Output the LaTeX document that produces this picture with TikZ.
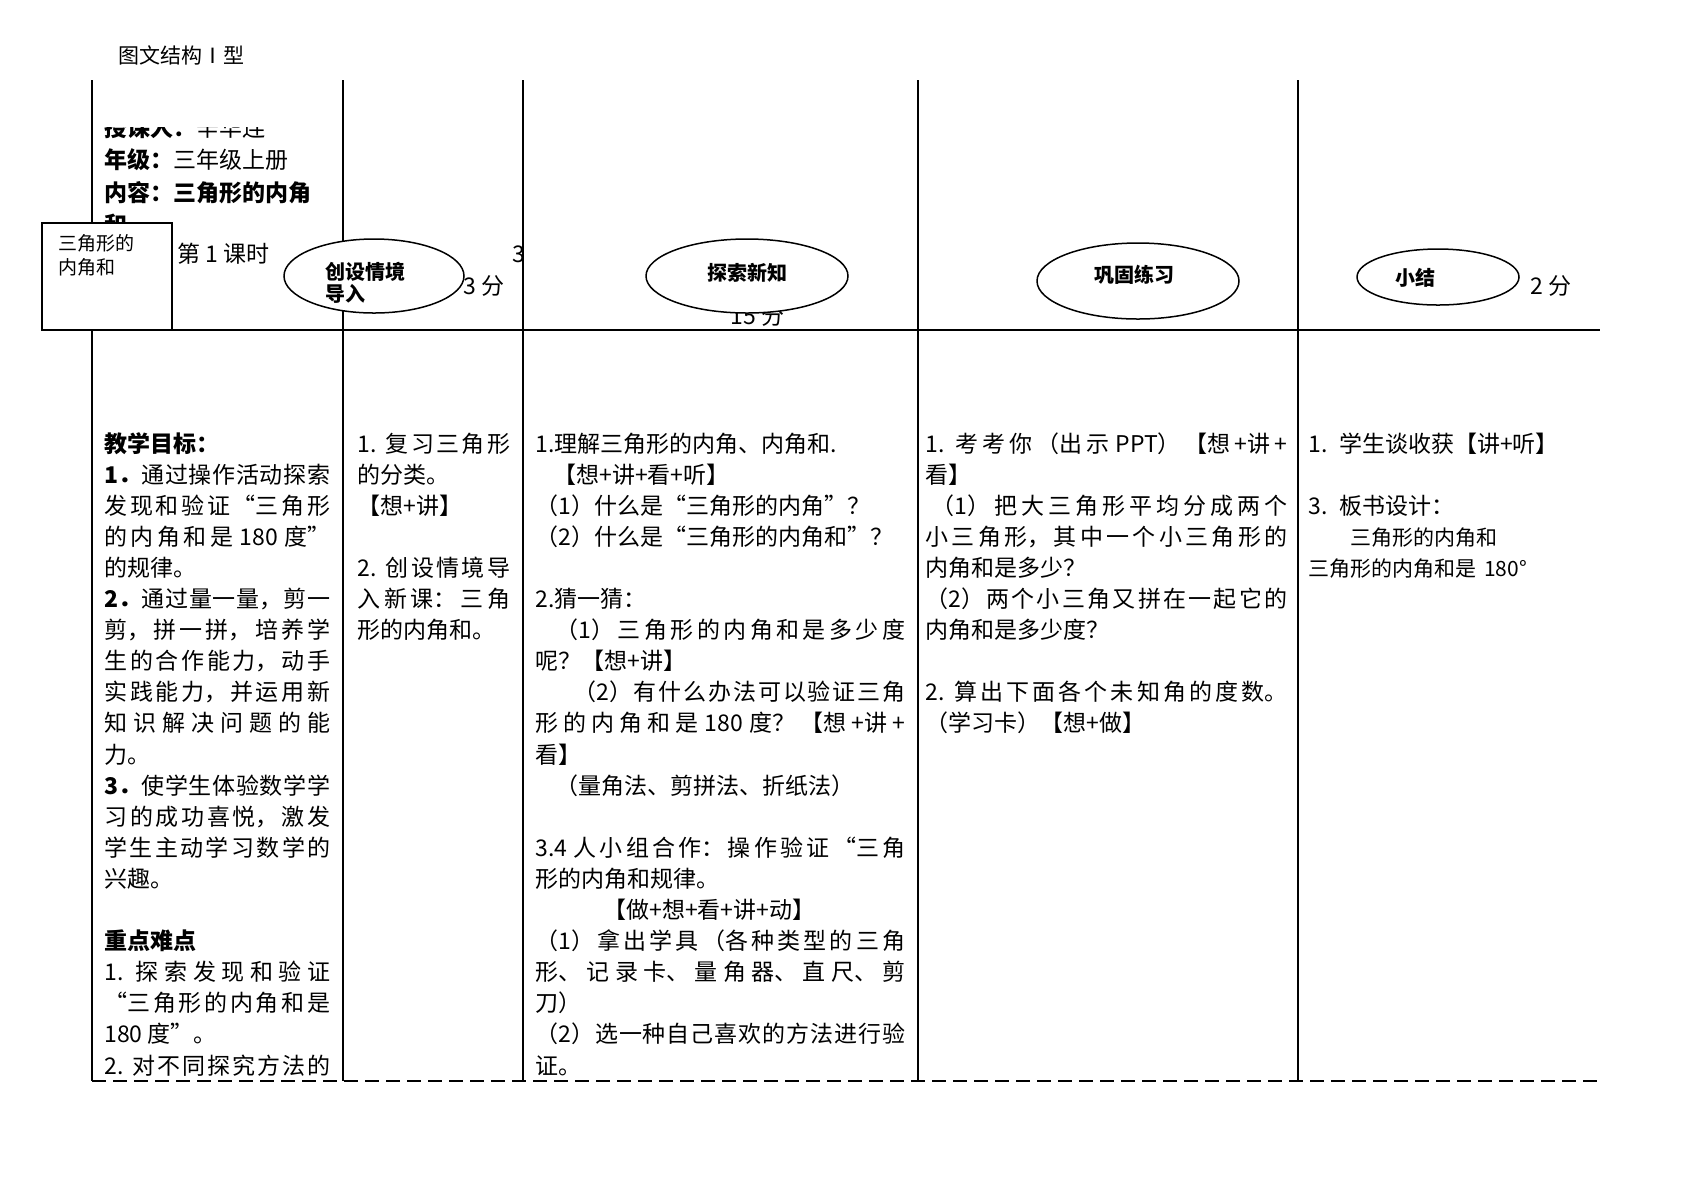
\documentclass[tikz,border=0pt]{standalone}
\usepackage{fontspec}
\setmainfont{Noto Sans CJK SC}
\usetikzlibrary{shapes.geometric}
\XeTeXlinebreaklocale "zh"
\XeTeXlinebreakskip=0pt plus 4pt
\tikzset{
	rule/.style={line width=0.75pt},
	cutline/.style={line width=0.75pt,dash pattern=on 7pt off 3.5pt},
	cell/.style={anchor=base west,inner sep=0pt,align=justify,font=\fontsize{11.5pt}{15.55pt}\selectfont},
	plain/.style={anchor=base west,inner sep=0pt,font=\fontsize{11.5pt}{15.55pt}\selectfont},
	stage/.style={draw,ellipse,fill=white,line width=0.75pt,inner sep=0pt},
	stagetext/.style={inner sep=0pt,align=left,font=\bfseries\fontsize{10pt}{11pt}\selectfont},
}
\begin{document}
\begin{tikzpicture}[x=0.5pt,y=-0.5pt]
	\useasboundingbox (0,0) rectangle (1684,1191);
	\node[plain,font=\fontsize{10.5pt}{12pt}\selectfont] (title) at (118,63) {图文结构Ⅰ型};

	\draw [rule] (92,80) -- (92,1081);
	\draw [rule] (343,80) -- (343,1081);
	\draw [rule] (523,80) -- (523,1081);
	\draw [rule] (918,80) -- (918,1081);
	\draw [rule] (1298,80) -- (1298,1081);
	\draw [rule] (92,330) -- (1600,330);
	\draw [cutline] (92,1081) -- (1600,1081);

	\begin{scope}
		\clip (92,127) rectangle (343,330);
		\node[cell,text width=113pt,align=left,font=\fontsize{11.5pt}{16.25pt}\selectfont] (info) at (104,136) {\textbf{授课人：}辛华连\\
		\textbf{年级：}三年级上册\\
		\textbf{内容：三角形的内角}\\
		\textbf{和}};
	\end{scope}
	\node[plain] (period) at (177,262) {第 1 课时};
	\node[plain] (three) at (512,262) {3};
	\node[plain] (introtime) at (463,294) {3 分};
	\node[plain] (exploretime) at (730,324) {15 分};
	\node[plain] (wrapuptime) at (1530,294) {2 分};

	\node[stage,minimum width=90pt,minimum height=37pt] (intro) at (374,276) {};
	\node[stage,minimum width=101pt,minimum height=37pt] (explore) at (747,276) {};
	\node[stage,minimum width=101pt,minimum height=38pt] (practice) at (1138,281) {};
	\node[stage,minimum width=81pt,minimum height=28pt] (wrapup) at (1438,277) {};
	\node[stagetext,anchor=base west,text width=45pt] (introtext) at (325,279) {创设情境\\导入};
	\node[stagetext] (exploretext) at (747,273) {探索新知};
	\node[stagetext] (practicetext) at (1134,275) {巩固练习};
	\node[stagetext] (wrapuptext) at (1415,278) {小结};

	\node[draw,rule,fill=white,minimum width=65pt,minimum height=53.5pt,inner sep=0pt] (topic) at (107,276.5) {};
	\node[cell,align=left,text width=55pt,font=\fontsize{9.5pt}{12pt}\selectfont] (topictext) at (58,250) {三角形的\\内角和};

	\node[cell,text width=113pt] (goal) at (104,452) {\textbf{教学目标：}\\
	\textbf{1．}通过操作活动探索\linebreak
	发现和验证“三角形\linebreak
	的内角和是 180 度”\linebreak
	的规律。\\
	\textbf{2．}通过量一量，剪一\linebreak
	剪，拼一拼，培养学\linebreak
	生的合作能力，动手\linebreak
	实践能力，并运用新\linebreak
	知识解决问题的能\linebreak
	力。\\
	\textbf{3．}使学生体验数学学\linebreak
	习的成功喜悦，激发\linebreak
	学生主动学习数学的\linebreak
	兴趣。\\[15.55pt]
	\textbf{重点难点}\\
	1. 探索发现和验证\linebreak
	“三角形的内角和是\linebreak
	180 度”。\\
	2. 对不同探究方法的\linebreak\mbox{}};

	\node[cell,text width=76.5pt] (review) at (357,452) {1. 复习三角形\linebreak
	的分类。\\
	【想+讲】\\[15.55pt]
	2. 创设情境导\linebreak
	入新课：三角\linebreak
	形的内角和。};

	\node[cell,text width=185pt] (steps) at (535,452) {1.理解三角形的内角、内角和.\\
	\hspace*{9pt}【想+讲+看+听】\\
	（1）什么是“三角形的内角”？\\
	（2）什么是“三角形的内角和”？\\[15.55pt]
	2.猜一猜：\\
	\hspace*{10pt}（1）三角形的内角和是多少度\linebreak
	呢？【想+讲】\\
	\hspace*{19pt}（2）有什么办法可以验证三角\linebreak
	形的内角和是 180 度？【想+讲+\linebreak
	看】\\
	\hspace*{10pt}（量角法、剪拼法、折纸法）\\[15.55pt]
	3.4 人小组合作：操作验证“三角\linebreak
	形的内角和规律。\\
	\hspace*{34pt}【做+想+看+讲+动】\\
	（1）拿出学具（各种类型的三角\linebreak
	形、记录卡、量角器、直尺、剪\linebreak
	刀）\\
	（2）选一种自己喜欢的方法进行验\linebreak
	证。};

	\node[cell,text width=181pt] (drill) at (925,452) {1. 考考你（出示 PPT）【想+讲+\linebreak
	看】\\
	\hspace*{3pt}（1）把大三角形平均分成两个\linebreak
	小三角形，其中一个小三角形的\linebreak
	内角和是多少？\\
	（2）两个小三角又拼在一起它的\linebreak
	内角和是多少度？\\[15.55pt]
	2. 算出下面各个未知角的度数。\linebreak
	（学习卡）【想+做】};

	\node[cell,text width=143pt,align=left] (recap) at (1308,452) {1. 学生谈收获【讲+听】\\[15.55pt]
	3. 板书设计：\\
	{\fontsize{10.5pt}{15.55pt}\selectfont\hspace*{21pt}三角形的内角和\\
	三角形的内角和是 180°}};
\end{tikzpicture}
\end{document}
